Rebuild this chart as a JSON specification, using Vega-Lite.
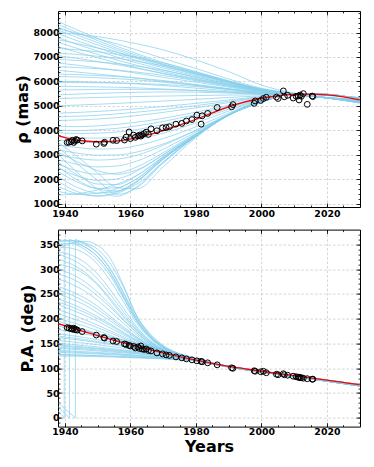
{
"$schema":"https://vega.github.io/schema/vega-lite/v6.json",
"background":"white",
"padding":{"left":14,"top":10,"right":5,"bottom":5},
"spacing":22.6,
"bounds":"flush",
"config":{
 "view":{"stroke":null},
 "axis":{"labelFont":"DejaVu Sans","labelFontSize":9.4,"labelFontWeight":"bold","labelColor":"black","titleFont":"DejaVu Sans","titleFontSize":16,"titleFontWeight":"bold","titleColor":"black","domainColor":"black","domainWidth":1,"tickColor":"black","tickWidth":0.8,"gridColor":"#c4c4c4","gridDash":[2.5,2],"gridWidth":0.7,"labelFlush":false,"labelOverlap":false}
},
"datasets":{
"rho":[
{"c":"U1","t":1938,"v":8450},{"c":"U1","t":1944,"v":8090},{"c":"U1","t":1950,"v":7760},{"c":"U1","t":1956,"v":7430},{"c":"U1","t":1962,"v":7130},{"c":"U1","t":1970,"v":6770},{"c":"U1","t":1980,"v":6380},{"c":"U1","t":1990,"v":6020},{"c":"U1","t":2000,"v":5690},{"c":"U1","t":2010,"v":5500},{"c":"U1","t":2020,"v":5330},{"c":"U1","t":2030,"v":5110},
{"c":"U2","t":1938,"v":8330},{"c":"U2","t":1944,"v":7985},{"c":"U2","t":1950,"v":7670},{"c":"U2","t":1956,"v":7350},{"c":"U2","t":1962,"v":7065},{"c":"U2","t":1970,"v":6715},{"c":"U2","t":1980,"v":6345},{"c":"U2","t":1990,"v":5995},{"c":"U2","t":2000,"v":5680},{"c":"U2","t":2010,"v":5495},{"c":"U2","t":2020,"v":5330},{"c":"U2","t":2030,"v":5120},
{"c":"U3","t":1938,"v":8220},{"c":"U3","t":1944,"v":7890},{"c":"U3","t":1950,"v":7585},{"c":"U3","t":1956,"v":7280},{"c":"U3","t":1962,"v":7000},{"c":"U3","t":1970,"v":6670},{"c":"U3","t":1980,"v":6310},{"c":"U3","t":1990,"v":5975},{"c":"U3","t":2000,"v":5670},{"c":"U3","t":2010,"v":5490},{"c":"U3","t":2020,"v":5325},{"c":"U3","t":2030,"v":5130},
{"c":"U4","t":1938,"v":8100},{"c":"U4","t":1944,"v":7780},{"c":"U4","t":1950,"v":7490},{"c":"U4","t":1956,"v":7200},{"c":"U4","t":1962,"v":6935},{"c":"U4","t":1970,"v":6615},{"c":"U4","t":1980,"v":6270},{"c":"U4","t":1990,"v":5955},{"c":"U4","t":2000,"v":5660},{"c":"U4","t":2010,"v":5488},{"c":"U4","t":2020,"v":5325},{"c":"U4","t":2030,"v":5140},
{"c":"U5","t":1938,"v":7950},{"c":"U5","t":1944,"v":7650},{"c":"U5","t":1950,"v":7375},{"c":"U5","t":1956,"v":7100},{"c":"U5","t":1962,"v":6850},{"c":"U5","t":1970,"v":6550},{"c":"U5","t":1980,"v":6225},{"c":"U5","t":1990,"v":5925},{"c":"U5","t":2000,"v":5650},{"c":"U5","t":2010,"v":5485},{"c":"U5","t":2020,"v":5320},{"c":"U5","t":2030,"v":5150},
{"c":"U6","t":1938,"v":7780},{"c":"U6","t":1944,"v":7500},{"c":"U6","t":1950,"v":7245},{"c":"U6","t":1956,"v":6990},{"c":"U6","t":1962,"v":6755},{"c":"U6","t":1970,"v":6475},{"c":"U6","t":1980,"v":6170},{"c":"U6","t":1990,"v":5895},{"c":"U6","t":2000,"v":5635},{"c":"U6","t":2010,"v":5480},{"c":"U6","t":2020,"v":5320},{"c":"U6","t":2030,"v":5160},
{"c":"U7","t":1938,"v":7600},{"c":"U7","t":1944,"v":7340},{"c":"U7","t":1950,"v":7105},{"c":"U7","t":1956,"v":6870},{"c":"U7","t":1962,"v":6655},{"c":"U7","t":1970,"v":6395},{"c":"U7","t":1980,"v":6115},{"c":"U7","t":1990,"v":5860},{"c":"U7","t":2000,"v":5620},{"c":"U7","t":2010,"v":5478},{"c":"U7","t":2020,"v":5318},{"c":"U7","t":2030,"v":5170},
{"c":"U8","t":1938,"v":7420},{"c":"U8","t":1944,"v":7185},{"c":"U8","t":1950,"v":6965},{"c":"U8","t":1956,"v":6750},{"c":"U8","t":1962,"v":6555},{"c":"U8","t":1970,"v":6315},{"c":"U8","t":1980,"v":6060},{"c":"U8","t":1990,"v":5825},{"c":"U8","t":2000,"v":5610},{"c":"U8","t":2010,"v":5475},{"c":"U8","t":2020,"v":5318},{"c":"U8","t":2030,"v":5180},
{"c":"U9","t":1938,"v":7150},{"c":"U9","t":1944,"v":7100},{"c":"U9","t":1950,"v":7030},{"c":"U9","t":1956,"v":6945},{"c":"U9","t":1962,"v":6825},{"c":"U9","t":1970,"v":6625},{"c":"U9","t":1980,"v":6300},{"c":"U9","t":1990,"v":5960},{"c":"U9","t":2000,"v":5655},{"c":"U9","t":2010,"v":5480},{"c":"U9","t":2020,"v":5320},{"c":"U9","t":2030,"v":5180},
{"c":"U10","t":1938,"v":6900},{"c":"U10","t":1944,"v":6855},{"c":"U10","t":1950,"v":6800},{"c":"U10","t":1956,"v":6725},{"c":"U10","t":1962,"v":6625},{"c":"U10","t":1970,"v":6450},{"c":"U10","t":1980,"v":6175},{"c":"U10","t":1990,"v":5885},{"c":"U10","t":2000,"v":5625},{"c":"U10","t":2010,"v":5475},{"c":"U10","t":2020,"v":5320},{"c":"U10","t":2030,"v":5190},
{"c":"U11","t":1938,"v":6600},{"c":"U11","t":1944,"v":6565},{"c":"U11","t":1950,"v":6520},{"c":"U11","t":1956,"v":6460},{"c":"U11","t":1962,"v":6380},{"c":"U11","t":1970,"v":6245},{"c":"U11","t":1980,"v":6025},{"c":"U11","t":1990,"v":5795},{"c":"U11","t":2000,"v":5590},{"c":"U11","t":2010,"v":5470},{"c":"U11","t":2020,"v":5320},{"c":"U11","t":2030,"v":5200},
{"c":"U12","t":1938,"v":6300},{"c":"U12","t":1944,"v":6275},{"c":"U12","t":1950,"v":6240},{"c":"U12","t":1956,"v":6200},{"c":"U12","t":1962,"v":6140},{"c":"U12","t":1970,"v":6035},{"c":"U12","t":1980,"v":5875},{"c":"U12","t":1990,"v":5705},{"c":"U12","t":2000,"v":5550},{"c":"U12","t":2010,"v":5465},{"c":"U12","t":2020,"v":5325},{"c":"U12","t":2030,"v":5210},
{"c":"U13","t":1938,"v":6200},{"c":"U13","t":1944,"v":6180},{"c":"U13","t":1950,"v":6150},{"c":"U13","t":1956,"v":6110},{"c":"U13","t":1962,"v":6060},{"c":"U13","t":1970,"v":5970},{"c":"U13","t":1980,"v":5825},{"c":"U13","t":1990,"v":5675},{"c":"U13","t":2000,"v":5540},{"c":"U13","t":2010,"v":5462},{"c":"U13","t":2020,"v":5325},{"c":"U13","t":2030,"v":5215},
{"c":"U14","t":1938,"v":6000},{"c":"U14","t":1944,"v":5985},{"c":"U14","t":1950,"v":5960},{"c":"U14","t":1956,"v":5935},{"c":"U14","t":1962,"v":5895},{"c":"U14","t":1970,"v":5830},{"c":"U14","t":1980,"v":5725},{"c":"U14","t":1990,"v":5615},{"c":"U14","t":2000,"v":5515},{"c":"U14","t":2010,"v":5460},{"c":"U14","t":2020,"v":5330},{"c":"U14","t":2030,"v":5220},
{"c":"U15","t":1938,"v":5800},{"c":"U15","t":1944,"v":5790},{"c":"U15","t":1950,"v":5775},{"c":"U15","t":1956,"v":5760},{"c":"U15","t":1962,"v":5735},{"c":"U15","t":1970,"v":5690},{"c":"U15","t":1980,"v":5625},{"c":"U15","t":1990,"v":5555},{"c":"U15","t":2000,"v":5490},{"c":"U15","t":2010,"v":5458},{"c":"U15","t":2020,"v":5335},{"c":"U15","t":2030,"v":5230},
{"c":"U16","t":1938,"v":5650},{"c":"U16","t":1944,"v":5660},{"c":"U16","t":1950,"v":5670},{"c":"U16","t":1956,"v":5675},{"c":"U16","t":1962,"v":5675},{"c":"U16","t":1970,"v":5665},{"c":"U16","t":1980,"v":5630},{"c":"U16","t":1990,"v":5575},{"c":"U16","t":2000,"v":5500},{"c":"U16","t":2010,"v":5450},{"c":"U16","t":2020,"v":5340},{"c":"U16","t":2030,"v":5230},
{"c":"U17","t":1938,"v":5450},{"c":"U17","t":1944,"v":5480},{"c":"U17","t":1950,"v":5510},{"c":"U17","t":1956,"v":5535},{"c":"U17","t":1962,"v":5555},{"c":"U17","t":1970,"v":5570},{"c":"U17","t":1980,"v":5560},{"c":"U17","t":1990,"v":5520},{"c":"U17","t":2000,"v":5470},{"c":"U17","t":2010,"v":5445},{"c":"U17","t":2020,"v":5345},{"c":"U17","t":2030,"v":5240},
{"c":"U18","t":1938,"v":8000},{"c":"U18","t":1944,"v":7930},{"c":"U18","t":1950,"v":7830},{"c":"U18","t":1956,"v":7700},{"c":"U18","t":1962,"v":7540},{"c":"U18","t":1970,"v":7290},{"c":"U18","t":1980,"v":6880},{"c":"U18","t":1990,"v":6400},{"c":"U18","t":2000,"v":5850},{"c":"U18","t":2010,"v":5520},{"c":"U18","t":2020,"v":5330},{"c":"U18","t":2030,"v":5140},
{"c":"U19","t":1938,"v":7350},{"c":"U19","t":1944,"v":7290},{"c":"U19","t":1950,"v":7210},{"c":"U19","t":1956,"v":7110},{"c":"U19","t":1962,"v":6980},{"c":"U19","t":1970,"v":6760},{"c":"U19","t":1980,"v":6400},{"c":"U19","t":1990,"v":6020},{"c":"U19","t":2000,"v":5680},{"c":"U19","t":2010,"v":5485},{"c":"U19","t":2020,"v":5322},{"c":"U19","t":2030,"v":5175},
{"c":"U20","t":1938,"v":8150},{"c":"U20","t":1944,"v":7961},{"c":"U20","t":1950,"v":7745},{"c":"U20","t":1956,"v":7529},{"c":"U20","t":1962,"v":7286},{"c":"U20","t":1970,"v":6935},{"c":"U20","t":1980,"v":6530},{"c":"U20","t":1990,"v":6098},{"c":"U20","t":2000,"v":5720},{"c":"U20","t":2010,"v":5505},{"c":"U20","t":2020,"v":5330},{"c":"U20","t":2030,"v":5125},
{"c":"U21","t":1938,"v":7700},{"c":"U21","t":1944,"v":7543},{"c":"U21","t":1950,"v":7363},{"c":"U21","t":1956,"v":7183},{"c":"U21","t":1962,"v":6980},{"c":"U21","t":1970,"v":6688},{"c":"U21","t":1980,"v":6350},{"c":"U21","t":1990,"v":5990},{"c":"U21","t":2000,"v":5675},{"c":"U21","t":2010,"v":5490},{"c":"U21","t":2020,"v":5322},{"c":"U21","t":2030,"v":5150},
{"c":"U22","t":1938,"v":7050},{"c":"U22","t":1944,"v":6938},{"c":"U22","t":1950,"v":6810},{"c":"U22","t":1956,"v":6682},{"c":"U22","t":1962,"v":6538},{"c":"U22","t":1970,"v":6330},{"c":"U22","t":1980,"v":6090},{"c":"U22","t":1990,"v":5834},{"c":"U22","t":2000,"v":5610},{"c":"U22","t":2010,"v":5478},{"c":"U22","t":2020,"v":5320},{"c":"U22","t":2030,"v":5185},
{"c":"U23","t":1938,"v":6750},{"c":"U23","t":1944,"v":6659},{"c":"U23","t":1950,"v":6555},{"c":"U23","t":1956,"v":6451},{"c":"U23","t":1962,"v":6334},{"c":"U23","t":1970,"v":6165},{"c":"U23","t":1980,"v":5970},{"c":"U23","t":1990,"v":5762},{"c":"U23","t":2000,"v":5580},{"c":"U23","t":2010,"v":5470},{"c":"U23","t":2020,"v":5320},{"c":"U23","t":2030,"v":5195},
{"c":"U24","t":1938,"v":6450},{"c":"U24","t":1944,"v":6380},{"c":"U24","t":1950,"v":6300},{"c":"U24","t":1956,"v":6220},{"c":"U24","t":1962,"v":6130},{"c":"U24","t":1970,"v":6000},{"c":"U24","t":1980,"v":5850},{"c":"U24","t":1990,"v":5690},{"c":"U24","t":2000,"v":5550},{"c":"U24","t":2010,"v":5465},{"c":"U24","t":2020,"v":5322},{"c":"U24","t":2030,"v":5205},
{"c":"U25","t":1938,"v":5950},{"c":"U25","t":1944,"v":5950},{"c":"U25","t":1950,"v":5945},{"c":"U25","t":1956,"v":5935},{"c":"U25","t":1962,"v":5915},{"c":"U25","t":1970,"v":5875},{"c":"U25","t":1980,"v":5790},{"c":"U25","t":1990,"v":5670},{"c":"U25","t":2000,"v":5530},{"c":"U25","t":2010,"v":5462},{"c":"U25","t":2020,"v":5330},{"c":"U25","t":2030,"v":5222},
{"c":"L1","t":1938,"v":5300},{"c":"L1","t":1944,"v":5320},{"c":"L1","t":1950,"v":5340},{"c":"L1","t":1956,"v":5360},{"c":"L1","t":1962,"v":5380},{"c":"L1","t":1970,"v":5400},{"c":"L1","t":1980,"v":5420},{"c":"L1","t":1990,"v":5440},{"c":"L1","t":2000,"v":5450},{"c":"L1","t":2010,"v":5470},{"c":"L1","t":2020,"v":5420},{"c":"L1","t":2030,"v":5330},
{"c":"L2","t":1938,"v":5000},{"c":"L2","t":1944,"v":5030},{"c":"L2","t":1950,"v":5065},{"c":"L2","t":1956,"v":5100},{"c":"L2","t":1962,"v":5140},{"c":"L2","t":1970,"v":5195},{"c":"L2","t":1980,"v":5265},{"c":"L2","t":1990,"v":5340},{"c":"L2","t":2000,"v":5410},{"c":"L2","t":2010,"v":5470},{"c":"L2","t":2020,"v":5430},{"c":"L2","t":2030,"v":5340},
{"c":"L3","t":1938,"v":4700},{"c":"L3","t":1944,"v":4730},{"c":"L3","t":1950,"v":4770},{"c":"L3","t":1956,"v":4820},{"c":"L3","t":1962,"v":4880},{"c":"L3","t":1970,"v":4970},{"c":"L3","t":1980,"v":5100},{"c":"L3","t":1990,"v":5240},{"c":"L3","t":2000,"v":5380},{"c":"L3","t":2010,"v":5480},{"c":"L3","t":2020,"v":5440},{"c":"L3","t":2030,"v":5330},
{"c":"L4","t":1938,"v":4400},{"c":"L4","t":1944,"v":4420},{"c":"L4","t":1950,"v":4460},{"c":"L4","t":1956,"v":4520},{"c":"L4","t":1962,"v":4600},{"c":"L4","t":1970,"v":4730},{"c":"L4","t":1980,"v":4920},{"c":"L4","t":1990,"v":5130},{"c":"L4","t":2000,"v":5340},{"c":"L4","t":2010,"v":5480},{"c":"L4","t":2020,"v":5445},{"c":"L4","t":2030,"v":5320},
{"c":"L5","t":1938,"v":4150},{"c":"L5","t":1944,"v":4150},{"c":"L5","t":1950,"v":4180},{"c":"L5","t":1956,"v":4240},{"c":"L5","t":1962,"v":4330},{"c":"L5","t":1970,"v":4490},{"c":"L5","t":1980,"v":4740},{"c":"L5","t":1990,"v":5030},{"c":"L5","t":2000,"v":5310},{"c":"L5","t":2010,"v":5485},{"c":"L5","t":2020,"v":5450},{"c":"L5","t":2030,"v":5310},
{"c":"L6","t":1938,"v":3900},{"c":"L6","t":1944,"v":3870},{"c":"L6","t":1950,"v":3880},{"c":"L6","t":1956,"v":3930},{"c":"L6","t":1962,"v":4030},{"c":"L6","t":1970,"v":4230},{"c":"L6","t":1980,"v":4560},{"c":"L6","t":1990,"v":4930},{"c":"L6","t":2000,"v":5280},{"c":"L6","t":2010,"v":5490},{"c":"L6","t":2020,"v":5455},{"c":"L6","t":2030,"v":5300},
{"c":"L7","t":1938,"v":3600},{"c":"L7","t":1944,"v":3520},{"c":"L7","t":1950,"v":3490},{"c":"L7","t":1956,"v":3520},{"c":"L7","t":1962,"v":3630},{"c":"L7","t":1970,"v":3880},{"c":"L7","t":1980,"v":4300},{"c":"L7","t":1990,"v":4790},{"c":"L7","t":2000,"v":5250},{"c":"L7","t":2010,"v":5490},{"c":"L7","t":2020,"v":5460},{"c":"L7","t":2030,"v":5290},
{"c":"L8","t":1938,"v":3400},{"c":"L8","t":1944,"v":3290},{"c":"L8","t":1950,"v":3230},{"c":"L8","t":1956,"v":3250},{"c":"L8","t":1962,"v":3370},{"c":"L8","t":1970,"v":3660},{"c":"L8","t":1980,"v":4140},{"c":"L8","t":1990,"v":4700},{"c":"L8","t":2000,"v":5230},{"c":"L8","t":2010,"v":5490},{"c":"L8","t":2020,"v":5460},{"c":"L8","t":2030,"v":5280},
{"c":"L9","t":1938,"v":3200},{"c":"L9","t":1944,"v":3060},{"c":"L9","t":1950,"v":2980},{"c":"L9","t":1956,"v":2990},{"c":"L9","t":1962,"v":3110},{"c":"L9","t":1970,"v":3440},{"c":"L9","t":1980,"v":3990},{"c":"L9","t":1990,"v":4620},{"c":"L9","t":2000,"v":5210},{"c":"L9","t":2010,"v":5490},{"c":"L9","t":2020,"v":5465},{"c":"L9","t":2030,"v":5275},
{"c":"L10","t":1938,"v":3000},{"c":"L10","t":1944,"v":2850},{"c":"L10","t":1950,"v":2780},{"c":"L10","t":1956,"v":2820},{"c":"L10","t":1962,"v":2980},{"c":"L10","t":1970,"v":3380},{"c":"L10","t":1980,"v":4000},{"c":"L10","t":1990,"v":4650},{"c":"L10","t":2000,"v":5210},{"c":"L10","t":2010,"v":5490},{"c":"L10","t":2020,"v":5465},{"c":"L10","t":2030,"v":5270},
{"c":"L11","t":1938,"v":2800},{"c":"L11","t":1944,"v":2600},{"c":"L11","t":1950,"v":2500},{"c":"L11","t":1956,"v":2540},{"c":"L11","t":1962,"v":2740},{"c":"L11","t":1970,"v":3220},{"c":"L11","t":1980,"v":3930},{"c":"L11","t":1990,"v":4640},{"c":"L11","t":2000,"v":5200},{"c":"L11","t":2010,"v":5490},{"c":"L11","t":2020,"v":5470},{"c":"L11","t":2030,"v":5265},
{"c":"L12","t":1938,"v":2600},{"c":"L12","t":1944,"v":2330},{"c":"L12","t":1950,"v":2200},{"c":"L12","t":1956,"v":2250},{"c":"L12","t":1962,"v":2500},{"c":"L12","t":1970,"v":3080},{"c":"L12","t":1980,"v":3870},{"c":"L12","t":1990,"v":4630},{"c":"L12","t":2000,"v":5190},{"c":"L12","t":2010,"v":5490},{"c":"L12","t":2020,"v":5470},{"c":"L12","t":2030,"v":5260},
{"c":"L13","t":1938,"v":2450},{"c":"L13","t":1944,"v":2120},{"c":"L13","t":1950,"v":1950},{"c":"L13","t":1956,"v":2010},{"c":"L13","t":1962,"v":2330},{"c":"L13","t":1970,"v":2990},{"c":"L13","t":1980,"v":3830},{"c":"L13","t":1990,"v":4630},{"c":"L13","t":2000,"v":5180},{"c":"L13","t":2010,"v":5490},{"c":"L13","t":2020,"v":5470},{"c":"L13","t":2030,"v":5255},
{"c":"L14","t":1938,"v":2700},{"c":"L14","t":1944,"v":2150},{"c":"L14","t":1950,"v":1800},{"c":"L14","t":1956,"v":1780},{"c":"L14","t":1962,"v":2150},{"c":"L14","t":1970,"v":2900},{"c":"L14","t":1980,"v":3800},{"c":"L14","t":1990,"v":4625},{"c":"L14","t":2000,"v":5170},{"c":"L14","t":2010,"v":5490},{"c":"L14","t":2020,"v":5470},{"c":"L14","t":2030,"v":5250},
{"c":"L15","t":1938,"v":2300},{"c":"L15","t":1944,"v":1870},{"c":"L15","t":1950,"v":1620},{"c":"L15","t":1956,"v":1650},{"c":"L15","t":1962,"v":2020},{"c":"L15","t":1970,"v":2850},{"c":"L15","t":1980,"v":3780},{"c":"L15","t":1990,"v":4620},{"c":"L15","t":2000,"v":5160},{"c":"L15","t":2010,"v":5490},{"c":"L15","t":2020,"v":5470},{"c":"L15","t":2030,"v":5245},
{"c":"L16","t":1938,"v":2100},{"c":"L16","t":1944,"v":1650},{"c":"L16","t":1950,"v":1430},{"c":"L16","t":1956,"v":1500},{"c":"L16","t":1962,"v":1920},{"c":"L16","t":1970,"v":2820},{"c":"L16","t":1980,"v":3770},{"c":"L16","t":1990,"v":4620},{"c":"L16","t":2000,"v":5150},{"c":"L16","t":2010,"v":5490},{"c":"L16","t":2020,"v":5470},{"c":"L16","t":2030,"v":5240},
{"c":"L17","t":1938,"v":1900},{"c":"L17","t":1944,"v":1480},{"c":"L17","t":1950,"v":1300},{"c":"L17","t":1956,"v":1420},{"c":"L17","t":1962,"v":1880},{"c":"L17","t":1970,"v":2810},{"c":"L17","t":1980,"v":3760},{"c":"L17","t":1990,"v":4620},{"c":"L17","t":2000,"v":5150},{"c":"L17","t":2010,"v":5485},{"c":"L17","t":2020,"v":5470},{"c":"L17","t":2030,"v":5240},
{"c":"L18","t":1938,"v":1700},{"c":"L18","t":1944,"v":1400},{"c":"L18","t":1950,"v":1320},{"c":"L18","t":1956,"v":1480},{"c":"L18","t":1962,"v":1920},{"c":"L18","t":1970,"v":2830},{"c":"L18","t":1980,"v":3770},{"c":"L18","t":1990,"v":4620},{"c":"L18","t":2000,"v":5150},{"c":"L18","t":2010,"v":5485},{"c":"L18","t":2020,"v":5470},{"c":"L18","t":2030,"v":5240},
{"c":"L19","t":1938,"v":1500},{"c":"L19","t":1944,"v":1380},{"c":"L19","t":1950,"v":1420},{"c":"L19","t":1956,"v":1620},{"c":"L19","t":1962,"v":2020},{"c":"L19","t":1970,"v":2870},{"c":"L19","t":1980,"v":3790},{"c":"L19","t":1990,"v":4625},{"c":"L19","t":2000,"v":5155},{"c":"L19","t":2010,"v":5485},{"c":"L19","t":2020,"v":5470},{"c":"L19","t":2030,"v":5240},
{"c":"L20","t":1938,"v":1350},{"c":"L20","t":1944,"v":1400},{"c":"L20","t":1950,"v":1560},{"c":"L20","t":1956,"v":1800},{"c":"L20","t":1962,"v":2150},{"c":"L20","t":1970,"v":2920},{"c":"L20","t":1980,"v":3810},{"c":"L20","t":1990,"v":4630},{"c":"L20","t":2000,"v":5160},{"c":"L20","t":2010,"v":5485},{"c":"L20","t":2020,"v":5470},{"c":"L20","t":2030,"v":5245},
{"c":"L21","t":1938,"v":3300},{"c":"L21","t":1944,"v":2600},{"c":"L21","t":1950,"v":1950},{"c":"L21","t":1956,"v":1380},{"c":"L21","t":1962,"v":1650},{"c":"L21","t":1970,"v":2650},{"c":"L21","t":1980,"v":3740},{"c":"L21","t":1990,"v":4620},{"c":"L21","t":2000,"v":5150},{"c":"L21","t":2010,"v":5490},{"c":"L21","t":2020,"v":5470},{"c":"L21","t":2030,"v":5250},
{"c":"L22","t":1938,"v":3000},{"c":"L22","t":1944,"v":2250},{"c":"L22","t":1950,"v":1600},{"c":"L22","t":1956,"v":1300},{"c":"L22","t":1962,"v":1700},{"c":"L22","t":1970,"v":2700},{"c":"L22","t":1980,"v":3760},{"c":"L22","t":1990,"v":4620},{"c":"L22","t":2000,"v":5155},{"c":"L22","t":2010,"v":5490},{"c":"L22","t":2020,"v":5470},{"c":"L22","t":2030,"v":5250},
{"c":"L23","t":1938,"v":4550},{"c":"L23","t":1944,"v":4575},{"c":"L23","t":1950,"v":4615},{"c":"L23","t":1956,"v":4670},{"c":"L23","t":1962,"v":4740},{"c":"L23","t":1970,"v":4850},{"c":"L23","t":1980,"v":5010},{"c":"L23","t":1990,"v":5185},{"c":"L23","t":2000,"v":5360},{"c":"L23","t":2010,"v":5480},{"c":"L23","t":2020,"v":5442},{"c":"L23","t":2030,"v":5325},
{"c":"L24","t":1938,"v":4000},{"c":"L24","t":1944,"v":3990},{"c":"L24","t":1950,"v":4020},{"c":"L24","t":1956,"v":4080},{"c":"L24","t":1962,"v":4180},{"c":"L24","t":1970,"v":4360},{"c":"L24","t":1980,"v":4650},{"c":"L24","t":1990,"v":4980},{"c":"L24","t":2000,"v":5295},{"c":"L24","t":2010,"v":5488},{"c":"L24","t":2020,"v":5452},{"c":"L24","t":2030,"v":5305},
{"c":"L25","t":1938,"v":3750},{"c":"L25","t":1944,"v":3690},{"c":"L25","t":1950,"v":3680},{"c":"L25","t":1956,"v":3720},{"c":"L25","t":1962,"v":3820},{"c":"L25","t":1970,"v":4050},{"c":"L25","t":1980,"v":4430},{"c":"L25","t":1990,"v":4860},{"c":"L25","t":2000,"v":5265},{"c":"L25","t":2010,"v":5490},{"c":"L25","t":2020,"v":5458},{"c":"L25","t":2030,"v":5295},
{"c":"L26","t":1938,"v":3100},{"c":"L26","t":1944,"v":2700},{"c":"L26","t":1950,"v":2350},{"c":"L26","t":1956,"v":2200},{"c":"L26","t":1962,"v":2380},{"c":"L26","t":1970,"v":3000},{"c":"L26","t":1980,"v":3850},{"c":"L26","t":1990,"v":4640},{"c":"L26","t":2000,"v":5195},{"c":"L26","t":2010,"v":5490},{"c":"L26","t":2020,"v":5468},{"c":"L26","t":2030,"v":5268},
{"c":"L27","t":1938,"v":2500},{"c":"L27","t":1944,"v":1950},{"c":"L27","t":1950,"v":1600},{"c":"L27","t":1956,"v":1520},{"c":"L27","t":1962,"v":1800},{"c":"L27","t":1970,"v":2700},{"c":"L27","t":1980,"v":3760},{"c":"L27","t":1990,"v":4620},{"c":"L27","t":2000,"v":5155},{"c":"L27","t":2010,"v":5490},{"c":"L27","t":2020,"v":5470},{"c":"L27","t":2030,"v":5248},
{"c":"L28","t":1938,"v":3500},{"c":"L28","t":1944,"v":2900},{"c":"L28","t":1950,"v":2250},{"c":"L28","t":1956,"v":1650},{"c":"L28","t":1962,"v":1600},{"c":"L28","t":1970,"v":2500},{"c":"L28","t":1980,"v":3700},{"c":"L28","t":1990,"v":4610},{"c":"L28","t":2000,"v":5150},{"c":"L28","t":2010,"v":5490},{"c":"L28","t":2020,"v":5470},{"c":"L28","t":2030,"v":5252}
],
"pa":[
{"c":"P0","t":1938,"v":340},{"c":"P0","t":1942,"v":352},{"c":"P0","t":1946,"v":356},{"c":"P0","t":1950,"v":348},{"c":"P0","t":1954,"v":320},{"c":"P0","t":1958,"v":265},{"c":"P0","t":1962,"v":205},{"c":"P0","t":1966,"v":170},{"c":"P0","t":1970,"v":146},{"c":"P0","t":1975,"v":129},{"c":"P0","t":1980,"v":118},{"c":"P0","t":1990,"v":103.5},{"c":"P0","t":2000,"v":93.3},{"c":"P0","t":2010,"v":84.2},{"c":"P0","t":2020,"v":75.2},{"c":"P0","t":2030,"v":66},
{"c":"P1","t":1938,"v":355},{"c":"P1","t":1942,"v":357},{"c":"P1","t":1946,"v":350},{"c":"P1","t":1950,"v":332},{"c":"P1","t":1954,"v":298},{"c":"P1","t":1958,"v":250},{"c":"P1","t":1962,"v":198},{"c":"P1","t":1966,"v":165},{"c":"P1","t":1970,"v":143},{"c":"P1","t":1975,"v":128},{"c":"P1","t":1980,"v":117.5},{"c":"P1","t":1990,"v":104},{"c":"P1","t":2000,"v":94},{"c":"P1","t":2010,"v":85},{"c":"P1","t":2020,"v":76},{"c":"P1","t":2030,"v":67},
{"c":"P2","t":1938,"v":345},{"c":"P2","t":1942,"v":342},{"c":"P2","t":1946,"v":332},{"c":"P2","t":1950,"v":310},{"c":"P2","t":1954,"v":275},{"c":"P2","t":1958,"v":233},{"c":"P2","t":1962,"v":190},{"c":"P2","t":1966,"v":160},{"c":"P2","t":1970,"v":141},{"c":"P2","t":1975,"v":127},{"c":"P2","t":1980,"v":117},{"c":"P2","t":1990,"v":103},{"c":"P2","t":2000,"v":92.8},{"c":"P2","t":2010,"v":83.6},{"c":"P2","t":2020,"v":74.5},{"c":"P2","t":2030,"v":65.2},
{"c":"P3","t":1938,"v":335},{"c":"P3","t":1942,"v":328},{"c":"P3","t":1946,"v":314},{"c":"P3","t":1950,"v":290},{"c":"P3","t":1954,"v":257},{"c":"P3","t":1958,"v":220},{"c":"P3","t":1962,"v":183},{"c":"P3","t":1966,"v":156},{"c":"P3","t":1970,"v":139},{"c":"P3","t":1975,"v":126},{"c":"P3","t":1980,"v":117},{"c":"P3","t":1990,"v":103.5},{"c":"P3","t":2000,"v":93.3},{"c":"P3","t":2010,"v":84.2},{"c":"P3","t":2020,"v":75.2},{"c":"P3","t":2030,"v":66},
{"c":"P4","t":1938,"v":320},{"c":"P4","t":1942,"v":310},{"c":"P4","t":1946,"v":294},{"c":"P4","t":1950,"v":270},{"c":"P4","t":1954,"v":240},{"c":"P4","t":1958,"v":207},{"c":"P4","t":1962,"v":177},{"c":"P4","t":1966,"v":153},{"c":"P4","t":1970,"v":137},{"c":"P4","t":1975,"v":125},{"c":"P4","t":1980,"v":116},{"c":"P4","t":1990,"v":102.6},{"c":"P4","t":2000,"v":92.3},{"c":"P4","t":2010,"v":83},{"c":"P4","t":2020,"v":73.8},{"c":"P4","t":2030,"v":64.4},
{"c":"P5","t":1938,"v":300},{"c":"P5","t":1942,"v":290},{"c":"P5","t":1946,"v":275},{"c":"P5","t":1950,"v":253},{"c":"P5","t":1954,"v":227},{"c":"P5","t":1958,"v":198},{"c":"P5","t":1962,"v":172},{"c":"P5","t":1966,"v":150},{"c":"P5","t":1970,"v":136},{"c":"P5","t":1975,"v":124.5},{"c":"P5","t":1980,"v":116},{"c":"P5","t":1990,"v":104},{"c":"P5","t":2000,"v":94},{"c":"P5","t":2010,"v":85},{"c":"P5","t":2020,"v":76},{"c":"P5","t":2030,"v":67},
{"c":"P6","t":1938,"v":280},{"c":"P6","t":1942,"v":270},{"c":"P6","t":1946,"v":256},{"c":"P6","t":1950,"v":237},{"c":"P6","t":1954,"v":214},{"c":"P6","t":1958,"v":190},{"c":"P6","t":1962,"v":167},{"c":"P6","t":1966,"v":148},{"c":"P6","t":1970,"v":134},{"c":"P6","t":1975,"v":124},{"c":"P6","t":1980,"v":116},{"c":"P6","t":1990,"v":103},{"c":"P6","t":2000,"v":92.8},{"c":"P6","t":2010,"v":83.6},{"c":"P6","t":2020,"v":74.5},{"c":"P6","t":2030,"v":65.2},
{"c":"P7","t":1938,"v":265},{"c":"P7","t":1942,"v":255},{"c":"P7","t":1946,"v":242},{"c":"P7","t":1950,"v":225},{"c":"P7","t":1954,"v":204},{"c":"P7","t":1958,"v":183},{"c":"P7","t":1962,"v":163},{"c":"P7","t":1966,"v":146},{"c":"P7","t":1970,"v":133},{"c":"P7","t":1975,"v":123.5},{"c":"P7","t":1980,"v":115.5},{"c":"P7","t":1990,"v":103.5},{"c":"P7","t":2000,"v":93.3},{"c":"P7","t":2010,"v":84.2},{"c":"P7","t":2020,"v":75.2},{"c":"P7","t":2030,"v":66},
{"c":"P8","t":1938,"v":250},{"c":"P8","t":1942,"v":240},{"c":"P8","t":1946,"v":228},{"c":"P8","t":1950,"v":212},{"c":"P8","t":1954,"v":195},{"c":"P8","t":1958,"v":177},{"c":"P8","t":1962,"v":160},{"c":"P8","t":1966,"v":145},{"c":"P8","t":1970,"v":133},{"c":"P8","t":1975,"v":123},{"c":"P8","t":1980,"v":115},{"c":"P8","t":1990,"v":102.6},{"c":"P8","t":2000,"v":92.3},{"c":"P8","t":2010,"v":83},{"c":"P8","t":2020,"v":73.8},{"c":"P8","t":2030,"v":64.4},
{"c":"P9","t":1938,"v":240},{"c":"P9","t":1942,"v":230},{"c":"P9","t":1946,"v":218},{"c":"P9","t":1950,"v":204},{"c":"P9","t":1954,"v":189},{"c":"P9","t":1958,"v":172},{"c":"P9","t":1962,"v":157},{"c":"P9","t":1966,"v":144},{"c":"P9","t":1970,"v":133},{"c":"P9","t":1975,"v":122},{"c":"P9","t":1980,"v":115},{"c":"P9","t":1990,"v":103},{"c":"P9","t":2000,"v":92.8},{"c":"P9","t":2010,"v":83.6},{"c":"P9","t":2020,"v":74.5},{"c":"P9","t":2030,"v":65.2},
{"c":"P10","t":1938,"v":228},{"c":"P10","t":1942,"v":218},{"c":"P10","t":1946,"v":207},{"c":"P10","t":1950,"v":195},{"c":"P10","t":1954,"v":181},{"c":"P10","t":1958,"v":167},{"c":"P10","t":1962,"v":154},{"c":"P10","t":1966,"v":142},{"c":"P10","t":1970,"v":132},{"c":"P10","t":1975,"v":122},{"c":"P10","t":1980,"v":115},{"c":"P10","t":1990,"v":104},{"c":"P10","t":2000,"v":94},{"c":"P10","t":2010,"v":85},{"c":"P10","t":2020,"v":76},{"c":"P10","t":2030,"v":67},
{"c":"P11","t":1938,"v":218},{"c":"P11","t":1942,"v":209},{"c":"P11","t":1946,"v":198},{"c":"P11","t":1950,"v":187},{"c":"P11","t":1954,"v":175},{"c":"P11","t":1958,"v":163},{"c":"P11","t":1962,"v":151},{"c":"P11","t":1966,"v":140},{"c":"P11","t":1970,"v":131},{"c":"P11","t":1975,"v":121},{"c":"P11","t":1980,"v":115},{"c":"P11","t":1990,"v":103.5},{"c":"P11","t":2000,"v":93.3},{"c":"P11","t":2010,"v":84.2},{"c":"P11","t":2020,"v":75.2},{"c":"P11","t":2030,"v":66},
{"c":"P12","t":1938,"v":210},{"c":"P12","t":1942,"v":201},{"c":"P12","t":1946,"v":192},{"c":"P12","t":1950,"v":182},{"c":"P12","t":1954,"v":171},{"c":"P12","t":1958,"v":160},{"c":"P12","t":1962,"v":149},{"c":"P12","t":1966,"v":139},{"c":"P12","t":1970,"v":130},{"c":"P12","t":1975,"v":121},{"c":"P12","t":1980,"v":115},{"c":"P12","t":1990,"v":103},{"c":"P12","t":2000,"v":92.8},{"c":"P12","t":2010,"v":83.6},{"c":"P12","t":2020,"v":74.5},{"c":"P12","t":2030,"v":65.2},
{"c":"P13","t":1938,"v":200},{"c":"P13","t":1942,"v":193},{"c":"P13","t":1946,"v":185},{"c":"P13","t":1950,"v":176},{"c":"P13","t":1954,"v":166},{"c":"P13","t":1958,"v":156},{"c":"P13","t":1962,"v":147},{"c":"P13","t":1966,"v":138},{"c":"P13","t":1970,"v":130},{"c":"P13","t":1975,"v":121},{"c":"P13","t":1980,"v":115},{"c":"P13","t":1990,"v":102.6},{"c":"P13","t":2000,"v":92.3},{"c":"P13","t":2010,"v":83},{"c":"P13","t":2020,"v":73.8},{"c":"P13","t":2030,"v":64.4},
{"c":"P14","t":1938,"v":195},{"c":"P14","t":1942,"v":187},{"c":"P14","t":1946,"v":178},{"c":"P14","t":1950,"v":170},{"c":"P14","t":1954,"v":161},{"c":"P14","t":1958,"v":153},{"c":"P14","t":1962,"v":145},{"c":"P14","t":1966,"v":137},{"c":"P14","t":1970,"v":129},{"c":"P14","t":1975,"v":121},{"c":"P14","t":1980,"v":115},{"c":"P14","t":1990,"v":103.5},{"c":"P14","t":2000,"v":93.3},{"c":"P14","t":2010,"v":84.2},{"c":"P14","t":2020,"v":75.2},{"c":"P14","t":2030,"v":66},
{"c":"P15","t":1938,"v":310},{"c":"P15","t":1942,"v":303},{"c":"P15","t":1946,"v":290},{"c":"P15","t":1950,"v":268},{"c":"P15","t":1954,"v":236},{"c":"P15","t":1958,"v":203},{"c":"P15","t":1962,"v":175},{"c":"P15","t":1966,"v":152},{"c":"P15","t":1970,"v":137},{"c":"P15","t":1975,"v":125},{"c":"P15","t":1980,"v":116},{"c":"P15","t":1990,"v":103},{"c":"P15","t":2000,"v":92.8},{"c":"P15","t":2010,"v":83.6},{"c":"P15","t":2020,"v":74.5},{"c":"P15","t":2030,"v":65.2},
{"c":"P16","t":1938,"v":350},{"c":"P16","t":1942,"v":352},{"c":"P16","t":1946,"v":345},{"c":"P16","t":1950,"v":325},{"c":"P16","t":1954,"v":290},{"c":"P16","t":1958,"v":242},{"c":"P16","t":1962,"v":194},{"c":"P16","t":1966,"v":162},{"c":"P16","t":1970,"v":142},{"c":"P16","t":1975,"v":127},{"c":"P16","t":1980,"v":117},{"c":"P16","t":1990,"v":102.6},{"c":"P16","t":2000,"v":92.3},{"c":"P16","t":2010,"v":83},{"c":"P16","t":2020,"v":73.8},{"c":"P16","t":2030,"v":64.4},
{"c":"P17","t":1938,"v":358},{"c":"P17","t":1942,"v":358},{"c":"P17","t":1946,"v":353},{"c":"P17","t":1950,"v":340},{"c":"P17","t":1954,"v":310},{"c":"P17","t":1958,"v":262},{"c":"P17","t":1962,"v":205},{"c":"P17","t":1966,"v":168},{"c":"P17","t":1970,"v":145},{"c":"P17","t":1975,"v":129},{"c":"P17","t":1980,"v":118},{"c":"P17","t":1990,"v":103},{"c":"P17","t":2000,"v":92.8},{"c":"P17","t":2010,"v":83.6},{"c":"P17","t":2020,"v":74.5},{"c":"P17","t":2030,"v":65.2},
{"c":"P18","t":1938,"v":330},{"c":"P18","t":1942,"v":320},{"c":"P18","t":1946,"v":304},{"c":"P18","t":1950,"v":280},{"c":"P18","t":1954,"v":248},{"c":"P18","t":1958,"v":213},{"c":"P18","t":1962,"v":180},{"c":"P18","t":1966,"v":155},{"c":"P18","t":1970,"v":138},{"c":"P18","t":1975,"v":126},{"c":"P18","t":1980,"v":116.5},{"c":"P18","t":1990,"v":104},{"c":"P18","t":2000,"v":94},{"c":"P18","t":2010,"v":85},{"c":"P18","t":2020,"v":76},{"c":"P18","t":2030,"v":67},
{"c":"P19","t":1938,"v":290},{"c":"P19","t":1942,"v":281},{"c":"P19","t":1946,"v":266},{"c":"P19","t":1950,"v":246},{"c":"P19","t":1954,"v":222},{"c":"P19","t":1958,"v":196},{"c":"P19","t":1962,"v":171},{"c":"P19","t":1966,"v":150},{"c":"P19","t":1970,"v":136},{"c":"P19","t":1975,"v":124},{"c":"P19","t":1980,"v":116},{"c":"P19","t":1990,"v":103.5},{"c":"P19","t":2000,"v":93.3},{"c":"P19","t":2010,"v":84.2},{"c":"P19","t":2020,"v":75.2},{"c":"P19","t":2030,"v":66},
{"c":"P20","t":1938,"v":258},{"c":"P20","t":1942,"v":248},{"c":"P20","t":1946,"v":235},{"c":"P20","t":1950,"v":219},{"c":"P20","t":1954,"v":200},{"c":"P20","t":1958,"v":180},{"c":"P20","t":1962,"v":162},{"c":"P20","t":1966,"v":146},{"c":"P20","t":1970,"v":134},{"c":"P20","t":1975,"v":123},{"c":"P20","t":1980,"v":115.5},{"c":"P20","t":1990,"v":103},{"c":"P20","t":2000,"v":92.8},{"c":"P20","t":2010,"v":83.6},{"c":"P20","t":2020,"v":74.5},{"c":"P20","t":2030,"v":65.2},
{"c":"P21","t":1938,"v":234},{"c":"P21","t":1942,"v":224},{"c":"P21","t":1946,"v":213},{"c":"P21","t":1950,"v":200},{"c":"P21","t":1954,"v":186},{"c":"P21","t":1958,"v":170},{"c":"P21","t":1962,"v":156},{"c":"P21","t":1966,"v":143},{"c":"P21","t":1970,"v":132.5},{"c":"P21","t":1975,"v":122},{"c":"P21","t":1980,"v":115},{"c":"P21","t":1990,"v":102.6},{"c":"P21","t":2000,"v":92.3},{"c":"P21","t":2010,"v":83},{"c":"P21","t":2020,"v":73.8},{"c":"P21","t":2030,"v":64.4},
{"c":"Q1","t":1938,"v":125},{"c":"Q1","t":1942,"v":124.5},{"c":"Q1","t":1946,"v":124},{"c":"Q1","t":1950,"v":123.5},{"c":"Q1","t":1954,"v":123},{"c":"Q1","t":1958,"v":122},{"c":"Q1","t":1962,"v":121},{"c":"Q1","t":1966,"v":120},{"c":"Q1","t":1970,"v":119},{"c":"Q1","t":1975,"v":117},{"c":"Q1","t":1980,"v":115},{"c":"Q1","t":1990,"v":102.6},{"c":"Q1","t":2000,"v":92.3},{"c":"Q1","t":2010,"v":83},{"c":"Q1","t":2020,"v":73.8},{"c":"Q1","t":2030,"v":64.4},
{"c":"Q2","t":1938,"v":128},{"c":"Q2","t":1942,"v":127.3},{"c":"Q2","t":1946,"v":126.5},{"c":"Q2","t":1950,"v":125.5},{"c":"Q2","t":1954,"v":124.5},{"c":"Q2","t":1958,"v":123.5},{"c":"Q2","t":1962,"v":122.5},{"c":"Q2","t":1966,"v":121},{"c":"Q2","t":1970,"v":120},{"c":"Q2","t":1975,"v":117.5},{"c":"Q2","t":1980,"v":115.3},{"c":"Q2","t":1990,"v":103},{"c":"Q2","t":2000,"v":92.8},{"c":"Q2","t":2010,"v":83.6},{"c":"Q2","t":2020,"v":74.5},{"c":"Q2","t":2030,"v":65.2},
{"c":"Q3","t":1938,"v":132},{"c":"Q3","t":1942,"v":131},{"c":"Q3","t":1946,"v":130},{"c":"Q3","t":1950,"v":128.7},{"c":"Q3","t":1954,"v":127.5},{"c":"Q3","t":1958,"v":126},{"c":"Q3","t":1962,"v":124.5},{"c":"Q3","t":1966,"v":123},{"c":"Q3","t":1970,"v":121},{"c":"Q3","t":1975,"v":118},{"c":"Q3","t":1980,"v":115.5},{"c":"Q3","t":1990,"v":103},{"c":"Q3","t":2000,"v":92.8},{"c":"Q3","t":2010,"v":83.6},{"c":"Q3","t":2020,"v":74.5},{"c":"Q3","t":2030,"v":65.2},
{"c":"Q4","t":1938,"v":136},{"c":"Q4","t":1942,"v":134.8},{"c":"Q4","t":1946,"v":133.5},{"c":"Q4","t":1950,"v":132},{"c":"Q4","t":1954,"v":130.5},{"c":"Q4","t":1958,"v":128.5},{"c":"Q4","t":1962,"v":126.5},{"c":"Q4","t":1966,"v":124.5},{"c":"Q4","t":1970,"v":122.5},{"c":"Q4","t":1975,"v":119},{"c":"Q4","t":1980,"v":116},{"c":"Q4","t":1990,"v":103.5},{"c":"Q4","t":2000,"v":93.3},{"c":"Q4","t":2010,"v":84.2},{"c":"Q4","t":2020,"v":75.2},{"c":"Q4","t":2030,"v":66},
{"c":"Q5","t":1938,"v":140},{"c":"Q5","t":1942,"v":138.5},{"c":"Q5","t":1946,"v":137},{"c":"Q5","t":1950,"v":135},{"c":"Q5","t":1954,"v":133},{"c":"Q5","t":1958,"v":131},{"c":"Q5","t":1962,"v":129},{"c":"Q5","t":1966,"v":126.5},{"c":"Q5","t":1970,"v":124},{"c":"Q5","t":1975,"v":120},{"c":"Q5","t":1980,"v":116},{"c":"Q5","t":1990,"v":103.5},{"c":"Q5","t":2000,"v":93.3},{"c":"Q5","t":2010,"v":84.2},{"c":"Q5","t":2020,"v":75.2},{"c":"Q5","t":2030,"v":66},
{"c":"Q6","t":1938,"v":145},{"c":"Q6","t":1942,"v":143},{"c":"Q6","t":1946,"v":141},{"c":"Q6","t":1950,"v":139},{"c":"Q6","t":1954,"v":136.5},{"c":"Q6","t":1958,"v":134},{"c":"Q6","t":1962,"v":131.5},{"c":"Q6","t":1966,"v":128.5},{"c":"Q6","t":1970,"v":126},{"c":"Q6","t":1975,"v":121},{"c":"Q6","t":1980,"v":116.5},{"c":"Q6","t":1990,"v":104},{"c":"Q6","t":2000,"v":94},{"c":"Q6","t":2010,"v":85},{"c":"Q6","t":2020,"v":76},{"c":"Q6","t":2030,"v":67},
{"c":"Q7","t":1938,"v":150},{"c":"Q7","t":1942,"v":148},{"c":"Q7","t":1946,"v":145.5},{"c":"Q7","t":1950,"v":143},{"c":"Q7","t":1954,"v":140},{"c":"Q7","t":1958,"v":137},{"c":"Q7","t":1962,"v":134},{"c":"Q7","t":1966,"v":131},{"c":"Q7","t":1970,"v":128},{"c":"Q7","t":1975,"v":122},{"c":"Q7","t":1980,"v":117},{"c":"Q7","t":1990,"v":102.6},{"c":"Q7","t":2000,"v":92.3},{"c":"Q7","t":2010,"v":83},{"c":"Q7","t":2020,"v":73.8},{"c":"Q7","t":2030,"v":64.4},
{"c":"Q8","t":1938,"v":156},{"c":"Q8","t":1942,"v":153.5},{"c":"Q8","t":1946,"v":150.5},{"c":"Q8","t":1950,"v":147.5},{"c":"Q8","t":1954,"v":144},{"c":"Q8","t":1958,"v":140.5},{"c":"Q8","t":1962,"v":137},{"c":"Q8","t":1966,"v":133.5},{"c":"Q8","t":1970,"v":130},{"c":"Q8","t":1975,"v":123.5},{"c":"Q8","t":1980,"v":117.5},{"c":"Q8","t":1990,"v":103},{"c":"Q8","t":2000,"v":92.8},{"c":"Q8","t":2010,"v":83.6},{"c":"Q8","t":2020,"v":74.5},{"c":"Q8","t":2030,"v":65.2},
{"c":"Q9","t":1938,"v":162},{"c":"Q9","t":1942,"v":159},{"c":"Q9","t":1946,"v":155.5},{"c":"Q9","t":1950,"v":152},{"c":"Q9","t":1954,"v":148},{"c":"Q9","t":1958,"v":144},{"c":"Q9","t":1962,"v":140},{"c":"Q9","t":1966,"v":136},{"c":"Q9","t":1970,"v":132},{"c":"Q9","t":1975,"v":125},{"c":"Q9","t":1980,"v":118},{"c":"Q9","t":1990,"v":103.5},{"c":"Q9","t":2000,"v":93.3},{"c":"Q9","t":2010,"v":84.2},{"c":"Q9","t":2020,"v":75.2},{"c":"Q9","t":2030,"v":66},
{"c":"Q10","t":1938,"v":170},{"c":"Q10","t":1942,"v":166},{"c":"Q10","t":1946,"v":162},{"c":"Q10","t":1950,"v":157.5},{"c":"Q10","t":1954,"v":153},{"c":"Q10","t":1958,"v":148},{"c":"Q10","t":1962,"v":143.5},{"c":"Q10","t":1966,"v":139},{"c":"Q10","t":1970,"v":134},{"c":"Q10","t":1975,"v":126},{"c":"Q10","t":1980,"v":118.5},{"c":"Q10","t":1990,"v":104},{"c":"Q10","t":2000,"v":94},{"c":"Q10","t":2010,"v":85},{"c":"Q10","t":2020,"v":76},{"c":"Q10","t":2030,"v":67},
{"c":"Q11","t":1938,"v":178},{"c":"Q11","t":1942,"v":173.5},{"c":"Q11","t":1946,"v":169},{"c":"Q11","t":1950,"v":164},{"c":"Q11","t":1954,"v":158.5},{"c":"Q11","t":1958,"v":153},{"c":"Q11","t":1962,"v":147.5},{"c":"Q11","t":1966,"v":142},{"c":"Q11","t":1970,"v":137},{"c":"Q11","t":1975,"v":128},{"c":"Q11","t":1980,"v":119.5},{"c":"Q11","t":1990,"v":103},{"c":"Q11","t":2000,"v":92.8},{"c":"Q11","t":2010,"v":83.6},{"c":"Q11","t":2020,"v":74.5},{"c":"Q11","t":2030,"v":65.2},
{"c":"Q12","t":1938,"v":185},{"c":"Q12","t":1942,"v":180},{"c":"Q12","t":1946,"v":174.5},{"c":"Q12","t":1950,"v":169},{"c":"Q12","t":1954,"v":163},{"c":"Q12","t":1958,"v":157},{"c":"Q12","t":1962,"v":151},{"c":"Q12","t":1966,"v":145},{"c":"Q12","t":1970,"v":139},{"c":"Q12","t":1975,"v":129.5},{"c":"Q12","t":1980,"v":120},{"c":"Q12","t":1990,"v":102.6},{"c":"Q12","t":2000,"v":92.3},{"c":"Q12","t":2010,"v":83},{"c":"Q12","t":2020,"v":73.8},{"c":"Q12","t":2030,"v":64.4},
{"c":"Q13","t":1938,"v":127},{"c":"Q13","t":1942,"v":126.5},{"c":"Q13","t":1946,"v":126},{"c":"Q13","t":1950,"v":125},{"c":"Q13","t":1954,"v":124},{"c":"Q13","t":1958,"v":123},{"c":"Q13","t":1962,"v":122},{"c":"Q13","t":1966,"v":120.5},{"c":"Q13","t":1970,"v":119.5},{"c":"Q13","t":1975,"v":117.5},{"c":"Q13","t":1980,"v":115},{"c":"Q13","t":1990,"v":103.5},{"c":"Q13","t":2000,"v":93.3},{"c":"Q13","t":2010,"v":84.2},{"c":"Q13","t":2020,"v":75.2},{"c":"Q13","t":2030,"v":66},
{"c":"Q14","t":1938,"v":134},{"c":"Q14","t":1942,"v":133},{"c":"Q14","t":1946,"v":131.5},{"c":"Q14","t":1950,"v":130.3},{"c":"Q14","t":1954,"v":129},{"c":"Q14","t":1958,"v":127.5},{"c":"Q14","t":1962,"v":125.5},{"c":"Q14","t":1966,"v":123.5},{"c":"Q14","t":1970,"v":121.5},{"c":"Q14","t":1975,"v":118.5},{"c":"Q14","t":1980,"v":115.8},{"c":"Q14","t":1990,"v":104},{"c":"Q14","t":2000,"v":94},{"c":"Q14","t":2010,"v":85},{"c":"Q14","t":2020,"v":76},{"c":"Q14","t":2030,"v":67},
{"c":"Q15","t":1938,"v":142},{"c":"Q15","t":1942,"v":140.5},{"c":"Q15","t":1946,"v":139},{"c":"Q15","t":1950,"v":137},{"c":"Q15","t":1954,"v":135},{"c":"Q15","t":1958,"v":132.5},{"c":"Q15","t":1962,"v":130},{"c":"Q15","t":1966,"v":127.5},{"c":"Q15","t":1970,"v":125},{"c":"Q15","t":1975,"v":120.5},{"c":"Q15","t":1980,"v":116.3},{"c":"Q15","t":1990,"v":103},{"c":"Q15","t":2000,"v":92.8},{"c":"Q15","t":2010,"v":83.6},{"c":"Q15","t":2020,"v":74.5},{"c":"Q15","t":2030,"v":65.2},
{"c":"Q16","t":1938,"v":147},{"c":"Q16","t":1942,"v":145},{"c":"Q16","t":1946,"v":143},{"c":"Q16","t":1950,"v":140.5},{"c":"Q16","t":1954,"v":138},{"c":"Q16","t":1958,"v":135.5},{"c":"Q16","t":1962,"v":132.5},{"c":"Q16","t":1966,"v":129.5},{"c":"Q16","t":1970,"v":126.5},{"c":"Q16","t":1975,"v":121.5},{"c":"Q16","t":1980,"v":116.8},{"c":"Q16","t":1990,"v":102.6},{"c":"Q16","t":2000,"v":92.3},{"c":"Q16","t":2010,"v":83},{"c":"Q16","t":2020,"v":73.8},{"c":"Q16","t":2030,"v":64.4},
{"c":"Q17","t":1938,"v":190},{"c":"Q17","t":1942,"v":183},{"c":"Q17","t":1946,"v":176},{"c":"Q17","t":1950,"v":169},{"c":"Q17","t":1954,"v":162},{"c":"Q17","t":1958,"v":155},{"c":"Q17","t":1962,"v":148.5},{"c":"Q17","t":1966,"v":142},{"c":"Q17","t":1970,"v":136},{"c":"Q17","t":1975,"v":128},{"c":"Q17","t":1980,"v":119},{"c":"Q17","t":1990,"v":103.5},{"c":"Q17","t":2000,"v":93.3},{"c":"Q17","t":2010,"v":84.2},{"c":"Q17","t":2020,"v":75.2},{"c":"Q17","t":2030,"v":66},
{"c":"Q18","t":1938,"v":165},{"c":"Q18","t":1942,"v":161.5},{"c":"Q18","t":1946,"v":158},{"c":"Q18","t":1950,"v":154},{"c":"Q18","t":1954,"v":150},{"c":"Q18","t":1958,"v":145.5},{"c":"Q18","t":1962,"v":141},{"c":"Q18","t":1966,"v":137},{"c":"Q18","t":1970,"v":133},{"c":"Q18","t":1975,"v":125.5},{"c":"Q18","t":1980,"v":118.2},{"c":"Q18","t":1990,"v":103},{"c":"Q18","t":2000,"v":92.8},{"c":"Q18","t":2010,"v":83.6},{"c":"Q18","t":2020,"v":74.5},{"c":"Q18","t":2030,"v":65.2},
{"c":"W1a","t":1938,"v":14},{"c":"W1a","t":1939.8,"v":0},
{"c":"W1b","t":1939.8,"v":360},{"c":"W1b","t":1942,"v":354},{"c":"W1b","t":1946,"v":340},{"c":"W1b","t":1950,"v":318},{"c":"W1b","t":1954,"v":285},{"c":"W1b","t":1958,"v":240},{"c":"W1b","t":1962,"v":195},{"c":"W1b","t":1966,"v":163},{"c":"W1b","t":1970,"v":142},{"c":"W1b","t":1975,"v":127},{"c":"W1b","t":1980,"v":117},{"c":"W1b","t":1990,"v":103},{"c":"W1b","t":2000,"v":92.8},{"c":"W1b","t":2010,"v":83.6},{"c":"W1b","t":2020,"v":74.5},{"c":"W1b","t":2030,"v":65.2},
{"c":"W2a","t":1938,"v":22},{"c":"W2a","t":1941.4,"v":0},
{"c":"W2b","t":1941.4,"v":360},{"c":"W2b","t":1946,"v":345},{"c":"W2b","t":1950,"v":325},{"c":"W2b","t":1954,"v":292},{"c":"W2b","t":1958,"v":245},{"c":"W2b","t":1962,"v":198},{"c":"W2b","t":1966,"v":164},{"c":"W2b","t":1970,"v":143},{"c":"W2b","t":1975,"v":128},{"c":"W2b","t":1980,"v":117},{"c":"W2b","t":1990,"v":103.5},{"c":"W2b","t":2000,"v":93.3},{"c":"W2b","t":2010,"v":84.2},{"c":"W2b","t":2020,"v":75.2},{"c":"W2b","t":2030,"v":66},
{"c":"W3a","t":1938,"v":30},{"c":"W3a","t":1943.2,"v":0},
{"c":"W3b","t":1943.2,"v":360},{"c":"W3b","t":1946,"v":352},{"c":"W3b","t":1950,"v":333},{"c":"W3b","t":1954,"v":300},{"c":"W3b","t":1958,"v":252},{"c":"W3b","t":1962,"v":202},{"c":"W3b","t":1966,"v":166},{"c":"W3b","t":1970,"v":144},{"c":"W3b","t":1975,"v":128},{"c":"W3b","t":1980,"v":117},{"c":"W3b","t":1990,"v":104},{"c":"W3b","t":2000,"v":94},{"c":"W3b","t":2010,"v":85},{"c":"W3b","t":2020,"v":76},{"c":"W3b","t":2030,"v":67}
],
"wraps":[{"t":1939.8},{"t":1941.4},{"t":1943.2}],
"fitrho":[
{"t":1938,"v":3775},{"t":1942,"v":3640},{"t":1946,"v":3560},{"t":1950,"v":3530},{"t":1954,"v":3545},{"t":1958,"v":3600},{"t":1962,"v":3700},{"t":1966,"v":3830},{"t":1970,"v":3990},{"t":1975,"v":4210},{"t":1980,"v":4450},{"t":1985,"v":4710},{"t":1990,"v":4960},{"t":1995,"v":5160},{"t":2000,"v":5310},{"t":2005,"v":5410},{"t":2010,"v":5465},{"t":2015,"v":5480},{"t":2020,"v":5450},{"t":2025,"v":5370},{"t":2030,"v":5240}
],
"fitpa":[
{"t":1938,"v":190},{"t":1942,"v":181.5},{"t":1946,"v":173.5},{"t":1950,"v":166},{"t":1955,"v":156.5},{"t":1960,"v":147.5},{"t":1965,"v":139},{"t":1970,"v":131},{"t":1975,"v":123.5},{"t":1980,"v":116.5},{"t":1985,"v":110},{"t":1990,"v":104},{"t":1995,"v":99},{"t":2000,"v":94},{"t":2005,"v":89.5},{"t":2010,"v":85},{"t":2015,"v":80.5},{"t":2020,"v":76},{"t":2025,"v":71.5},{"t":2030,"v":67}
],
"obs":[
{"t":1940.7,"rho":3500,"pa":182},{"t":1941.3,"rho":3510,"pa":181},{"t":1941.9,"rho":3530,"pa":180},{"t":1942.3,"rho":3590,"pa":179},{"t":1942.7,"rho":3500,"pa":181},{"t":1943.0,"rho":3560,"pa":178},{"t":1943.4,"rho":3620,"pa":178},{"t":1943.8,"rho":3600,"pa":177},{"t":1945.3,"rho":3565,"pa":174},{"t":1949.6,"rho":3430,"pa":167},{"t":1951.9,"rho":3460,"pa":162},{"t":1952.1,"rho":3510,"pa":161},{"t":1954.7,"rho":3590,"pa":155},{"t":1955.8,"rho":3580,"pa":154},{"t":1958.2,"rho":3600,"pa":149},{"t":1958.7,"rho":3720,"pa":148},{"t":1959.6,"rho":3930,"pa":146},{"t":1960.0,"rho":3660,"pa":145},{"t":1961.0,"rho":3800,"pa":144},{"t":1961.5,"rho":3710,"pa":141},{"t":1962.3,"rho":3770,"pa":143},{"t":1962.8,"rho":3800,"pa":140},{"t":1963.2,"rho":3760,"pa":145},{"t":1963.6,"rho":3820,"pa":139},{"t":1964.2,"rho":3860,"pa":138},{"t":1964.8,"rho":3920,"pa":139},{"t":1965.5,"rho":3830,"pa":136},{"t":1966.3,"rho":4060,"pa":135},{"t":1968.1,"rho":3980,"pa":131},{"t":1969.8,"rho":4100,"pa":129},{"t":1970.9,"rho":4110,"pa":127},{"t":1971.9,"rho":4140,"pa":126},{"t":1973.9,"rho":4250,"pa":123},{"t":1975.7,"rho":4280,"pa":121},{"t":1977.1,"rho":4380,"pa":119},{"t":1978.8,"rho":4440,"pa":117},{"t":1980.3,"rho":4620,"pa":115},{"t":1981.6,"rho":4250,"pa":114},{"t":1981.9,"rho":4590,"pa":113},{"t":1983.6,"rho":4690,"pa":111},{"t":1986.5,"rho":4930,"pa":107},{"t":1990.9,"rho":4960,"pa":101},{"t":1991.3,"rho":5050,"pa":100},{"t":1997.8,"rho":5100,"pa":95},{"t":1998.1,"rho":5200,"pa":94},{"t":1999.8,"rho":5220,"pa":93},{"t":2000.6,"rho":5300,"pa":94},{"t":2001.5,"rho":5350,"pa":91},{"t":2004.6,"rho":5360,"pa":88},{"t":2005.1,"rho":5300,"pa":87},{"t":2006.7,"rho":5610,"pa":89},{"t":2007.0,"rho":5370,"pa":87},{"t":2008.0,"rho":5430,"pa":86},{"t":2009.7,"rho":5320,"pa":84},{"t":2010.6,"rho":5390,"pa":83},{"t":2011.2,"rho":5400,"pa":82},{"t":2011.5,"rho":5240,"pa":82},{"t":2011.8,"rho":5440,"pa":81},{"t":2012.2,"rho":5390,"pa":81},{"t":2012.8,"rho":5500,"pa":80},{"t":2014.0,"rho":5060,"pa":79},{"t":2015.5,"rho":5400,"pa":78},{"t":2015.7,"rho":5380,"pa":78}
]
},
"vconcat":[
{
 "width":302,"height":196,
 "resolve":{"axis":{"x":"independent","y":"independent"}},
 "layer":[
  {"data":{"name":"rho"},
   "mark":{"type":"line","interpolate":"monotone","color":"#87CEEB","strokeWidth":1,"opacity":0.72,"clip":true},
   "encoding":{
    "x":{"field":"t","type":"quantitative","scale":{"domain":[1937.9,2030.1],"nice":false,"zero":false},
         "axis":{"orient":"bottom","values":[1940,1960,1980,2000,2020],"format":"d","title":null,"grid":true,"tickSize":-4,"labelPadding":6}},
    "y":{"field":"v","type":"quantitative","scale":{"domain":[860,8880],"nice":false,"zero":false},
         "axis":{"orient":"left","values":[1000,2000,3000,4000,5000,6000,7000,8000],"format":"d","title":"ρ (mas)","grid":true,"tickSize":-4,"labelPadding":3,"titlePadding":2}},
    "detail":{"field":"c"}}},
  {"data":{"name":"fitrho"},
   "mark":{"type":"line","interpolate":"monotone","color":"red","strokeWidth":1.3,"clip":true},
   "encoding":{
    "x":{"field":"t","type":"quantitative","scale":{"domain":[1937.9,2030.1],"nice":false,"zero":false},
         "axis":{"orient":"top","values":[1940,1960,1980,2000,2020],"labels":false,"title":null,"grid":false,"tickSize":-4}},
    "y":{"field":"v","type":"quantitative","scale":{"domain":[860,8880],"nice":false,"zero":false},
         "axis":{"orient":"right","values":[1000,2000,3000,4000,5000,6000,7000,8000],"labels":false,"title":null,"grid":false,"tickSize":-4}}}},
  {"data":{"name":"obs"},
   "mark":{"type":"point","shape":"circle","filled":false,"color":"black","strokeWidth":1,"size":34,"opacity":1},
   "encoding":{
    "x":{"field":"t","type":"quantitative","scale":{"domain":[1937.9,2030.1],"nice":false,"zero":false},
         "axis":{"orient":"bottom","values":[1940,1945,1950,1955,1960,1965,1970,1975,1980,1985,1990,1995,2000,2005,2010,2015,2020,2025,2030],"labels":false,"title":null,"grid":false,"domain":false,"tickSize":-2}},
    "y":{"field":"rho","type":"quantitative","scale":{"domain":[860,8880],"nice":false,"zero":false},
         "axis":{"orient":"left","values":[1000,1200,1400,1600,1800,2000,2200,2400,2600,2800,3000,3200,3400,3600,3800,4000,4200,4400,4600,4800,5000,5200,5400,5600,5800,6000,6200,6400,6600,6800,7000,7200,7400,7600,7800,8000,8200,8400,8600,8800],"labels":false,"title":null,"grid":false,"domain":false,"tickSize":-2}}}},
  {"data":{"name":"fitrho"},
   "mark":{"type":"line","opacity":0},
   "encoding":{
    "x":{"field":"t","type":"quantitative","scale":{"domain":[1937.9,2030.1],"nice":false,"zero":false},
         "axis":{"orient":"top","values":[1940,1945,1950,1955,1960,1965,1970,1975,1980,1985,1990,1995,2000,2005,2010,2015,2020,2025,2030],"labels":false,"title":null,"grid":false,"domain":false,"tickSize":-2}},
    "y":{"field":"v","type":"quantitative","scale":{"domain":[860,8880],"nice":false,"zero":false},
         "axis":{"orient":"right","values":[1000,1200,1400,1600,1800,2000,2200,2400,2600,2800,3000,3200,3400,3600,3800,4000,4200,4400,4600,4800,5000,5200,5400,5600,5800,6000,6200,6400,6600,6800,7000,7200,7400,7600,7800,8000,8200,8400,8600,8800],"labels":false,"title":null,"grid":false,"domain":false,"tickSize":-2}}}}
 ]
},
{
 "width":302,"height":197,
 "resolve":{"axis":{"x":"independent","y":"independent"}},
 "layer":[
  {"data":{"name":"pa"},
   "mark":{"type":"line","interpolate":"monotone","color":"#87CEEB","strokeWidth":1,"opacity":0.72,"clip":true},
   "encoding":{
    "x":{"field":"t","type":"quantitative","scale":{"domain":[1937.9,2030.1],"nice":false,"zero":false},
         "axis":{"orient":"bottom","values":[1940,1960,1980,2000,2020],"format":"d","title":"Years","titlePadding":2,"grid":true,"tickSize":-4,"labelPadding":5}},
    "y":{"field":"v","type":"quantitative","scale":{"domain":[-17.6,379.7],"nice":false,"zero":false},
         "axis":{"orient":"left","values":[0,50,100,150,200,250,300,350],"format":"d","title":"P.A. (deg)","grid":true,"tickSize":-4,"labelPadding":3,"titlePadding":4}},
    "detail":{"field":"c"}}},
  {"data":{"name":"wraps"},
   "mark":{"type":"rule","color":"#87CEEB","strokeWidth":1,"opacity":0.72},
   "encoding":{
    "x":{"field":"t","type":"quantitative","scale":{"domain":[1937.9,2030.1],"nice":false,"zero":false},"axis":null},
    "y":{"datum":0,"type":"quantitative","scale":{"domain":[-17.6,379.7],"nice":false,"zero":false},"axis":null},
    "y2":{"datum":360}}},
  {"data":{"name":"fitpa"},
   "mark":{"type":"line","interpolate":"monotone","color":"red","strokeWidth":1.3,"clip":true},
   "encoding":{
    "x":{"field":"t","type":"quantitative","scale":{"domain":[1937.9,2030.1],"nice":false,"zero":false},
         "axis":{"orient":"top","values":[1940,1960,1980,2000,2020],"labels":false,"title":null,"grid":false,"tickSize":-4}},
    "y":{"field":"v","type":"quantitative","scale":{"domain":[-17.6,379.7],"nice":false,"zero":false},
         "axis":{"orient":"right","values":[0,50,100,150,200,250,300,350],"labels":false,"title":null,"grid":false,"tickSize":-4}}}},
  {"data":{"name":"obs"},
   "mark":{"type":"point","shape":"circle","filled":false,"color":"black","strokeWidth":1,"size":34,"opacity":1},
   "encoding":{
    "x":{"field":"t","type":"quantitative","scale":{"domain":[1937.9,2030.1],"nice":false,"zero":false},
         "axis":{"orient":"bottom","values":[1940,1945,1950,1955,1960,1965,1970,1975,1980,1985,1990,1995,2000,2005,2010,2015,2020,2025,2030],"labels":false,"title":null,"grid":false,"domain":false,"tickSize":-2}},
    "y":{"field":"pa","type":"quantitative","scale":{"domain":[-17.6,379.7],"nice":false,"zero":false},
         "axis":{"orient":"left","values":[-10,0,10,20,30,40,50,60,70,80,90,100,110,120,130,140,150,160,170,180,190,200,210,220,230,240,250,260,270,280,290,300,310,320,330,340,350,360,370],"labels":false,"title":null,"grid":false,"domain":false,"tickSize":-2}}}},
  {"data":{"name":"fitpa"},
   "mark":{"type":"line","opacity":0},
   "encoding":{
    "x":{"field":"t","type":"quantitative","scale":{"domain":[1937.9,2030.1],"nice":false,"zero":false},
         "axis":{"orient":"top","values":[1940,1945,1950,1955,1960,1965,1970,1975,1980,1985,1990,1995,2000,2005,2010,2015,2020,2025,2030],"labels":false,"title":null,"grid":false,"domain":false,"tickSize":-2}},
    "y":{"field":"v","type":"quantitative","scale":{"domain":[-17.6,379.7],"nice":false,"zero":false},
         "axis":{"orient":"right","values":[-10,0,10,20,30,40,50,60,70,80,90,100,110,120,130,140,150,160,170,180,190,200,210,220,230,240,250,260,270,280,290,300,310,320,330,340,350,360,370],"labels":false,"title":null,"grid":false,"domain":false,"tickSize":-2}}}}
 ]
}
]
}
